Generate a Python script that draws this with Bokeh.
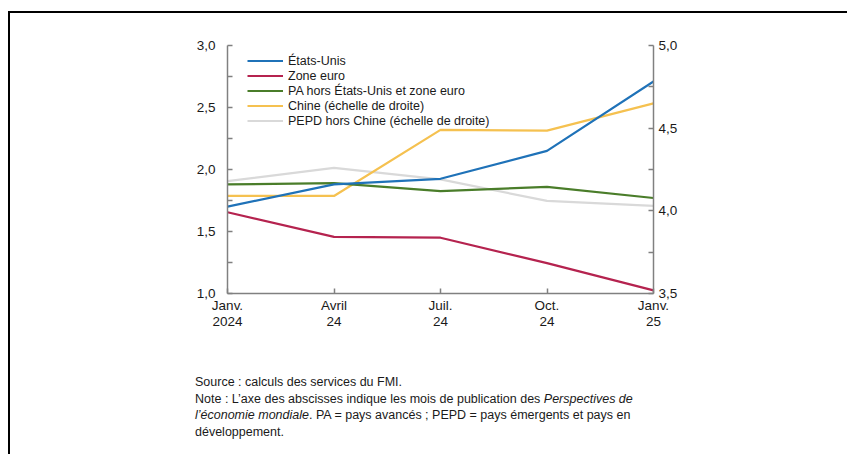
from bokeh.plotting import figure
from bokeh.layouts import column
from bokeh.models import (Range1d, LinearAxis, FixedTicker, Legend, LegendItem, Div)
from bokeh.embed import file_html
from bokeh.resources import INLINE

# ---- data ----
x_ticks = [0, 1, 2, 3, 4]
x_labels = ["Janv.\n2024", "Avril\n24", "Juil.\n24", "Oct.\n24", "Janv.\n25"]

etats_unis = [1.70, 1.88, 1.925, 2.15, 2.71]
zone_euro = [1.655, 1.457, 1.45, 1.245, 1.025]
pa_hors = [1.88, 1.89, 1.825, 1.86, 1.77]
chine = [4.09, 4.09, 4.49, 4.485, 4.65]          # right axis
pepd_hors_chine = [4.18, 4.26, 4.19, 4.06, 4.03]  # right axis

names = ["États-Unis", "Zone euro", "PA hors États-Unis et zone euro",
         "Chine (échelle de droite)", "PEPD hors Chine (échelle de droite)"]
colors = ["#1F72B8", "#B5234F", "#4A7D2A", "#F5C150", "#D9D9D9"]

left_ticks = [1.0, 1.5, 2.0, 2.5, 3.0]
left_minor = [1.25, 1.75, 2.25, 2.75]
right_ticks = [3.5, 4.0, 4.5, 5.0]
right_minor = [3.75, 4.25, 4.75]

note_html = (
    "Source : calculs des services du FMI.<br>"
    "Note : L’axe des abscisses indique les mois de publication des <i>Perspectives de</i><br>"
    "<i>l’économie mondiale</i>. PA = pays avancés ; PEPD = pays émergents et pays en<br>"
    "développement."
)

FONT = "Liberation Sans"
FS = "12.5px"
AXIS_COLOR = "#808080"
TEXT_COLOR = "#1A1A1A"

W, H = 837, 340
FH = 100
FRAME_W, FRAME_H = 426, 248
p = figure(width=W, height=H, output_backend="svg", toolbar_location=None,
           x_range=Range1d(0, 4), y_range=Range1d(1.0, 3.0),
           min_border_left=217, min_border_right=W - 217 - FRAME_W,
           min_border_top=32, min_border_bottom=H - 32 - FRAME_H,
           x_axis_location="below", y_axis_location="left")
p.extra_y_ranges = {"right": Range1d(3.5, 5.0)}
p.outline_line_color = None
p.xgrid.visible = False
p.ygrid.visible = False
p.background_fill_color = "white"
p.border_fill_color = "white"

def style_axis(ax, standoff):
    ax.axis_line_color = AXIS_COLOR
    ax.axis_line_width = 1.5
    ax.major_tick_line_color = AXIS_COLOR
    ax.minor_tick_line_color = AXIS_COLOR
    ax.major_tick_line_width = 1.5
    ax.minor_tick_line_width = 1.5
    ax.major_tick_in = 5
    ax.major_tick_out = 0
    ax.minor_tick_in = 5
    ax.minor_tick_out = 0
    ax.major_label_text_font = FONT
    ax.major_label_text_font_size = "13.5px"
    ax.major_label_text_color = TEXT_COLOR
    ax.major_label_standoff = standoff

xa = p.xaxis[0]
xa.ticker = FixedTicker(ticks=x_ticks)
xa.major_label_overrides = {t: l for t, l in zip(x_ticks, x_labels)}
style_axis(xa, 4)
xa.major_label_text_line_height = 1.1
xa.minor_tick_in = 0

ya = p.yaxis[0]
ya.ticker = FixedTicker(ticks=left_ticks, minor_ticks=left_minor)
ya.major_label_overrides = {t: f"{t:.1f}".replace(".", ",") for t in left_ticks}
style_axis(ya, 12)

ra = LinearAxis(y_range_name="right",
                ticker=FixedTicker(ticks=right_ticks, minor_ticks=right_minor))
ra.major_label_overrides = {t: f"{t:.1f}".replace(".", ",") for t in right_ticks}
style_axis(ra, 5)
p.add_layout(ra, "right")

# draw order: right-axis series first, blue last
r_pepd = p.line(x_ticks, pepd_hors_chine, y_range_name="right", line_color=colors[4], line_width=2.2)
r_chine = p.line(x_ticks, chine, y_range_name="right", line_color=colors[3], line_width=2.2)
r_pa = p.line(x_ticks, pa_hors, line_color=colors[2], line_width=2.2)
r_ze = p.line(x_ticks, zone_euro, line_color=colors[1], line_width=2.2)
r_us = p.line(x_ticks, etats_unis, line_color=colors[0], line_width=2.2)

renderers = [r_us, r_ze, r_pa, r_chine, r_pepd]
ROW = 15
legend = Legend(items=[LegendItem(label=n, renderers=[r]) for n, r in zip(names, renderers)],
                location=(20, FRAME_H - 8 - 5 * ROW), orientation="vertical",
                label_text_font=FONT, label_text_font_size=FS,
                label_text_color=TEXT_COLOR,
                glyph_width=36, glyph_height=ROW, label_height=ROW, spacing=0,
                label_standoff=5, padding=0, margin=0,
                background_fill_alpha=0, border_line_color=None)
p.add_layout(legend, "center")

# ---- footer notes ----
footer = Div(text=note_html, width=W, height=FH,
             styles={"font-family": FONT, "font-size": FS, "color": TEXT_COLOR,
                     "line-height": "16.6px", "white-space": "nowrap",
                     "padding-left": "180px", "padding-top": "16px",
                     "box-sizing": "border-box", "background": "white"})

layout = column(p, footer, spacing=0,
                styles={"border-top": "2px solid black", "border-left": "2px solid black",
                        "margin-top": "11px", "margin-left": "8px"})

open("out.html", "w").write(file_html(layout, INLINE))
